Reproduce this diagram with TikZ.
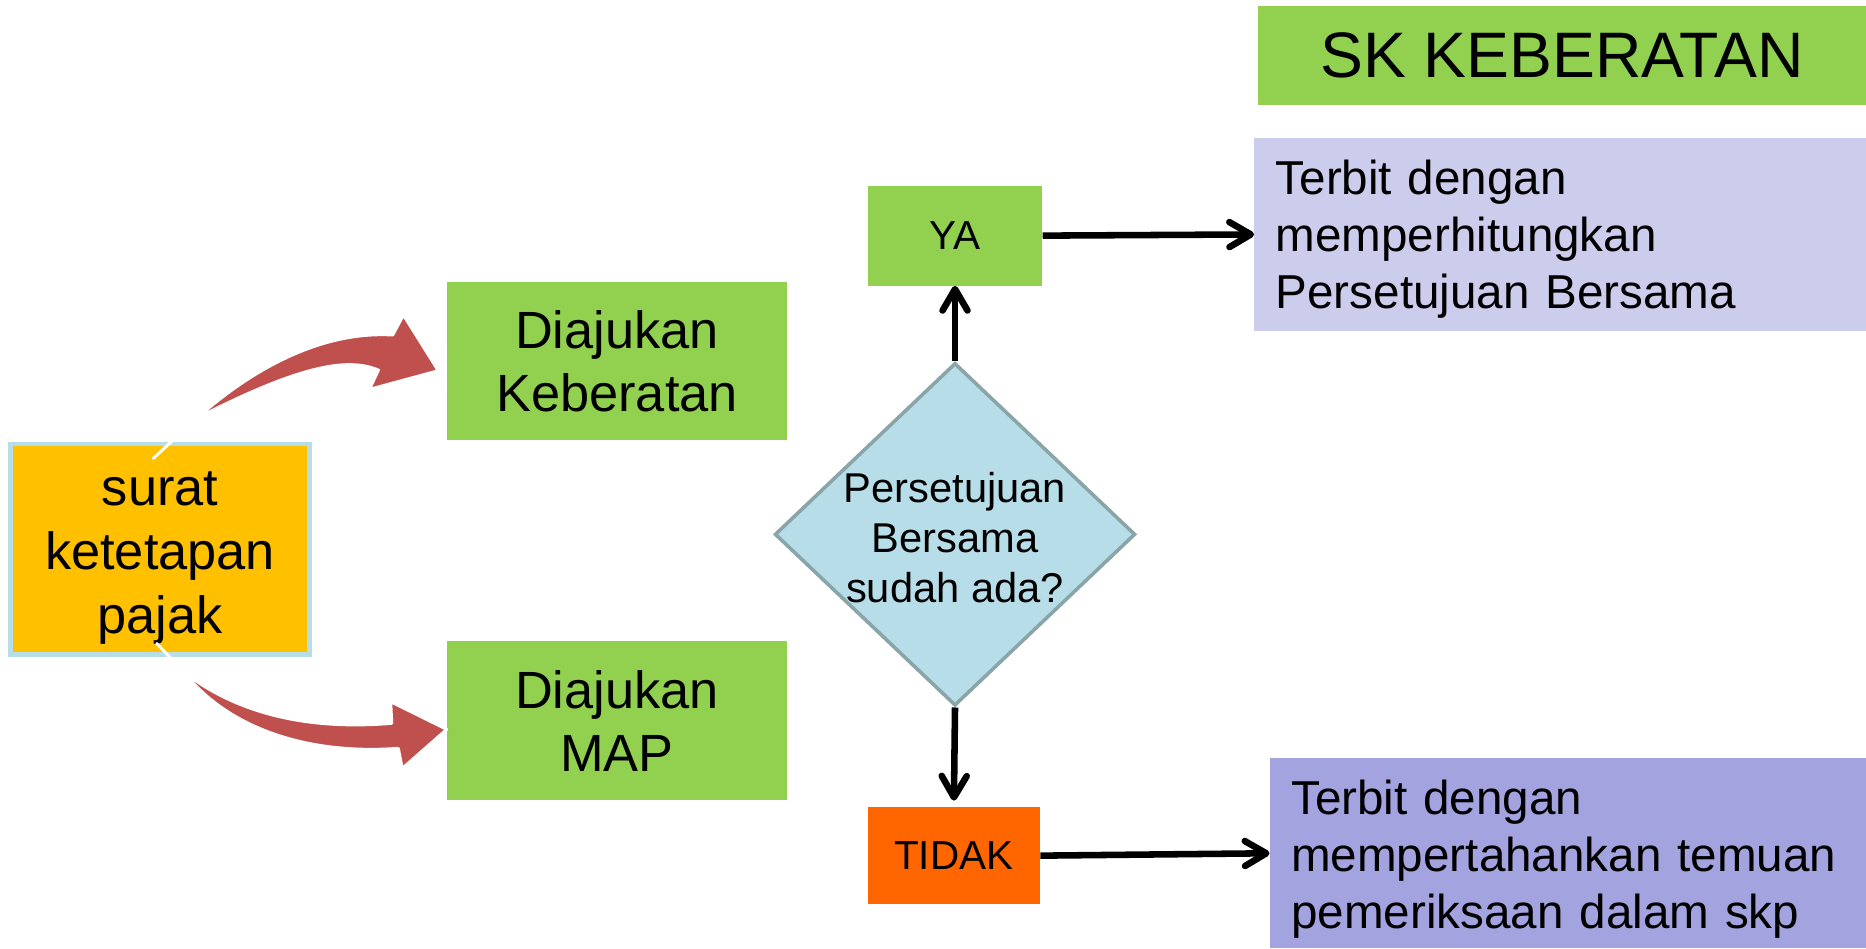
\documentclass[tikz,border=0pt]{standalone}
\usepackage{fontspec}
\setmainfont{Liberation Sans}
\usetikzlibrary{shapes.geometric,arrows.meta}
\definecolor{hijau}{HTML}{92D050}
\definecolor{kuning}{HTML}{FFC000}
\definecolor{birumuda}{HTML}{B7DEE8}
\definecolor{abu}{HTML}{8AA5A8}
\definecolor{oranye}{HTML}{FF6600}
\definecolor{ungumuda}{HTML}{CCCCEC}
\definecolor{ungu}{HTML}{A3A3DF}
\definecolor{merah}{HTML}{C0504D}

\begin{document}
\begin{tikzpicture}[x=1pt,y=-1pt]
\tikzstyle{hijaubox} = [rectangle, fill=hijau, inner sep=0pt, align=center, minimum width=285pt, minimum height=133pt, font=\fontsize{44}{53}\selectfont]
\tikzstyle{kecil} = [rectangle, inner sep=0pt, minimum width=147pt, minimum height=84pt, font=\fontsize{34}{40}\selectfont]
\tikzstyle{hasil} = [rectangle, inner xsep=18pt, inner ysep=0pt, align=left, font=\fontsize{40}{48}\selectfont]
\tikzstyle{panah} = [line width=5.5pt, -{Straight Barb[length=18pt,width=21pt,round]}]
\tikzstyle{lengkung} = [fill=merah, draw=white, line width=2.5pt, line join=round, line cap=round]

\useasboundingbox (0,0) rectangle (1568,797);

\node at (1312.5,46.5) [rectangle, fill=hijau, minimum width=511pt, minimum height=83pt, font=\fontsize{54}{60}\selectfont] (sk) {SK KEBERATAN};

\node at (134.5,461.5) [rectangle, fill=kuning, draw=birumuda, line width=4pt, minimum width=251pt, minimum height=177pt, align=center, font=\fontsize{44}{54}\selectfont] (skp) {\rule{0pt}{43pt}surat\\ketetapan\\pajak};

\node at (518.5,303.5) [hijaubox] (keberatan) {Diajukan\\Keberatan};
\node at (518.5,605.5) [hijaubox] (map) {Diajukan\\MAP};

\node at (802.5,449) [diamond, fill=birumuda, draw=abu, line width=3pt, inner sep=-8pt, shape aspect=1.05, minimum width=303pt, minimum height=288pt, align=center, font=\fontsize{35}{42}\selectfont] (tanya) {\rule{0pt}{31pt}Persetujuan\\Bersama\\sudah ada?};

\node at (802.5,198) [kecil, fill=hijau] (ya) {YA};
\node at (801.5,719) [kecil, fill=oranye, minimum width=145pt, minimum height=82pt] (tidak) {TIDAK};

\node at (1311,197) [hasil, fill=ungumuda, text width=478pt, minimum height=162pt] (terbit1) {\rule{0pt}{36.6pt}Terbit dengan\\memperhitungkan\\Persetujuan Bersama};
\node at (1317.5,717) [hasil, fill=ungu, text width=465pt, minimum height=160pt] (terbit2) {\rule{0pt}{38.6pt}Terbit dengan\\mempertahankan temuan\\pemeriksaan dalam skp};

\draw[panah] (tanya.north) -- (ya.south);
\draw[panah, shorten >=5pt] (tanya.south) -- (tidak.north);
\draw[panah] (ya.east) -- (terbit1.west);
\draw[panah] (tidak.east) -- (terbit2.west);

% panah lengkung merah
\draw[lengkung] (128.8,385.2) -- (165.3,351.5) .. controls (212,310) and (270,278) .. (330,281.5)
  -- (339,264.7) -- (368.3,311.5) -- (310.4,327.2) -- (318,311)
  .. controls (292,300) and (252,307) .. (165.3,351.5) -- cycle;
\draw[lengkung] (131.7,540.6) -- (154,564.4) .. controls (197,598) and (255,614) .. (329.2,607.8)
  -- (328.3,589.6) -- (375.4,612.9) -- (338,645.7) -- (334.7,628.8)
  .. controls (265,634) and (195,616) .. (154,564.4) -- cycle;

\end{tikzpicture}
\end{document}
